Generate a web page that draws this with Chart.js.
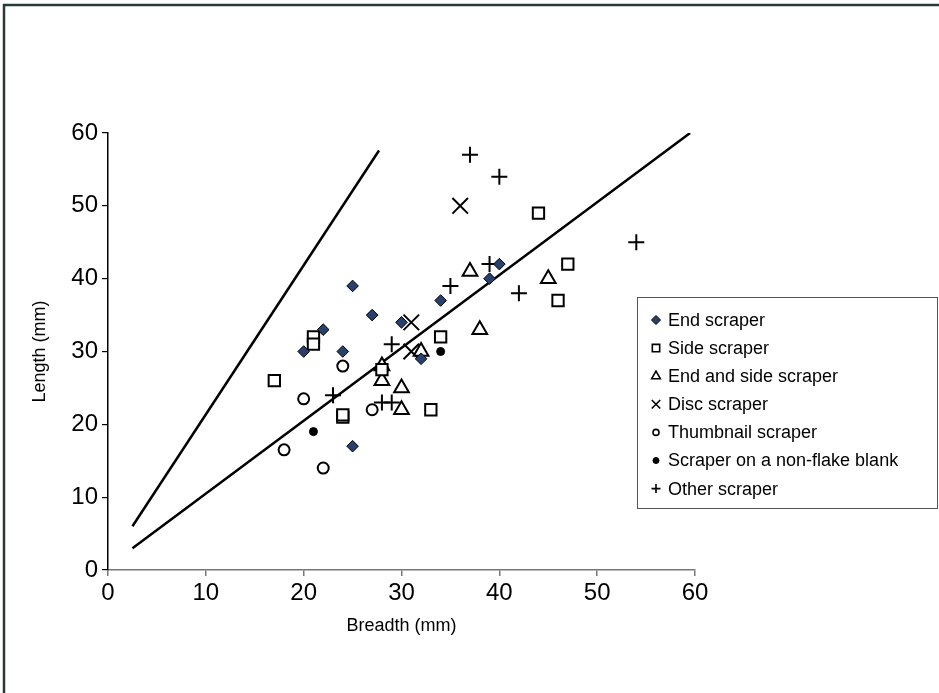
<!DOCTYPE html>
<html>
<head>
<meta charset="utf-8">
<script src="https://cdn.jsdelivr.net/npm/chart.js@4.4.1/dist/chart.umd.min.js"></script>
<style>
  html, body { margin: 0; padding: 0; background: #fff; }
  canvas { display: block; }
</style>
</head>
<body>
<canvas id="scraperChart" width="939" height="693"></canvas>
<script>
// breadth / length pairs (mm)
const endScraper = [[20, 30], [22, 33], [24, 30], [25, 39], [25, 17], [27, 35], [30, 34], [32, 29], [34, 37], [39, 40], [40, 42]];
const sideScraper = [[17, 26], [21, 32], [21, 31], [24, 21], [24, 21.3], [28, 27.5], [33, 22], [34, 32], [44, 49], [46, 37], [47, 42]];
const endSideScraper = [[28, 28], [28, 26], [30, 25], [30, 22], [32, 30], [37, 41], [38, 33], [45, 40]];
const discScraper = [[31, 34], [31, 30], [36, 50]];
const thumbnailScraper = [[18, 16.5], [20, 23.5], [22, 14], [24, 28], [27, 22]];
const nonFlakeScraper = [[21, 19], [34, 30]];
const otherScraper = [[23, 24], [28, 23], [29, 23], [29, 31], [35, 39], [37, 57], [39, 42], [40, 54], [42, 38], [54, 45]];

// the two reference lines
const upperLine = [[2.5, 6], [27.7, 57.6]];
const lowerLine = [[2.5, 3], [59.5, 60]];

const xTicks = [0, 10, 20, 30, 40, 50, 60];
const yTicks = [0, 10, 20, 30, 40, 50, 60];

const toPoints = arr => arr.map(p => ({ x: p[0], y: p[1] }));

const markerSeries = [
  { label: 'End scraper', data: endScraper, pointStyle: 'rectRot', radius: 5.8, legendRadius: 4.5, bg: '#27406d', border: '#000', bw: 1 },
  { label: 'Side scraper', data: sideScraper, pointStyle: 'rect', radius: 8, legendRadius: 5.2, bg: '#fff', border: '#000', bw: 2 },
  { label: 'End and side scraper', data: endSideScraper, pointStyle: 'triangle', radius: 8.5, legendRadius: 5, bg: '#fff', border: '#000', bw: 2 },
  { label: 'Disc scraper', data: discScraper, pointStyle: 'crossRot', radius: 11, legendRadius: 6, bg: '#000', border: '#000', bw: 2 },
  { label: 'Thumbnail scraper', data: thumbnailScraper, pointStyle: 'circle', radius: 5.5, legendRadius: 3, bg: '#fff', border: '#000', bw: 2 },
  { label: 'Scraper on a non-flake blank', data: nonFlakeScraper, pointStyle: 'circle', radius: 4, legendRadius: 3, bg: '#000', border: '#000', bw: 1 },
  { label: 'Other scraper', data: otherScraper, pointStyle: 'cross', radius: 8, legendRadius: 4.5, bg: '#000', border: '#000', bw: 2 }
];

const datasets = markerSeries.map(s => ({
  label: s.label,
  data: toPoints(s.data),
  pointStyle: s.pointStyle,
  pointRadius: s.radius,
  pointHoverRadius: s.radius,
  pointBackgroundColor: s.bg,
  pointBorderColor: s.border,
  pointBorderWidth: s.bw,
  showLine: false
}));

[upperLine, lowerLine].forEach((line, i) => {
  datasets.push({
    label: 'line' + i,
    data: toPoints(line),
    showLine: true,
    borderColor: '#000',
    borderWidth: 2.5,
    pointRadius: 0,
    pointHoverRadius: 0
  });
});

// page frame (top and left edges visible)
const framePlugin = {
  id: 'frame',
  beforeDraw(chart) {
    const ctx = chart.ctx;
    ctx.save();
    ctx.fillStyle = '#fff';
    ctx.fillRect(0, 0, chart.width, chart.height);
    ctx.strokeStyle = '#2b3838';
    ctx.lineWidth = 2.5;
    ctx.beginPath();
    ctx.moveTo(4, chart.height);
    ctx.lineTo(4, 5);
    ctx.lineTo(chart.width, 5);
    ctx.stroke();
    ctx.restore();
  }
};

// boxed legend at the right
const boxLegend = {
  id: 'boxLegend',
  afterDraw(chart) {
    const ctx = chart.ctx;
    const left = 637, top = 297, width = 300, height = 211;
    ctx.save();
    ctx.strokeStyle = '#555';
    ctx.lineWidth = 1;
    ctx.strokeRect(left + 0.5, top + 0.5, width, height);
    ctx.font = '18px "Liberation Sans", Arial, sans-serif';
    ctx.textBaseline = 'middle';
    markerSeries.forEach((s, i) => {
      const y = top + 23 + i * 28.1;
      ctx.fillStyle = s.bg;
      ctx.strokeStyle = s.border;
      ctx.lineWidth = Math.min(s.bw, 1.6);
      Chart.helpers.drawPoint(ctx, { pointStyle: s.pointStyle, radius: s.legendRadius, rotation: 0, borderWidth: s.bw }, left + 19, y);
      ctx.fillStyle = '#000';
      ctx.fillText(s.label, left + 31, y + 1);
    });
    ctx.restore();
  }
};

const axisFont = { family: '"Liberation Sans", Arial, sans-serif', size: 24 };
const titleFont = { family: '"Liberation Sans", Arial, sans-serif', size: 18 };

new Chart(document.getElementById('scraperChart'), {
  type: 'scatter',
  data: { datasets: datasets },
  options: {
    responsive: false,
    animation: false,
    layout: { autoPadding: false, padding: { left: 0, top: 133, right: 244, bottom: 0 } },
    plugins: {
      legend: { display: false },
      tooltip: { enabled: false }
    },
    scales: {
      x: {
        type: 'linear',
        min: 0,
        max: 60,
        afterBuildTicks: s => { s.ticks = xTicks.map(v => ({ value: v })); },
        afterFit: s => { s.height = 123; },
        ticks: { color: '#000', font: axisFont, padding: 3, maxRotation: 0 },
        grid: { drawOnChartArea: false, drawTicks: true, tickLength: 6, color: '#777', lineWidth: 1.5 },
        border: { color: '#777', width: 1.5 },
        title: { display: true, text: 'Breadth (mm)', color: '#000', font: titleFont, padding: { top: 0, bottom: 56 } }
      },
      y: {
        type: 'linear',
        min: 0,
        max: 60,
        afterBuildTicks: s => { s.ticks = yTicks.map(v => ({ value: v })); },
        afterFit: s => { s.width = 108; },
        ticks: { color: '#000', font: axisFont, padding: 4 },
        grid: { drawOnChartArea: false, drawTicks: true, tickLength: 6, color: '#000', lineWidth: 1.2 },
        border: { color: '#000', width: 1.5 },
        title: { display: true, text: 'Length (mm)', color: '#000', font: titleFont, padding: { top: 29, bottom: 0 } }
      }
    }
  },
  plugins: [framePlugin, boxLegend]
});
</script>
</body>
</html>
